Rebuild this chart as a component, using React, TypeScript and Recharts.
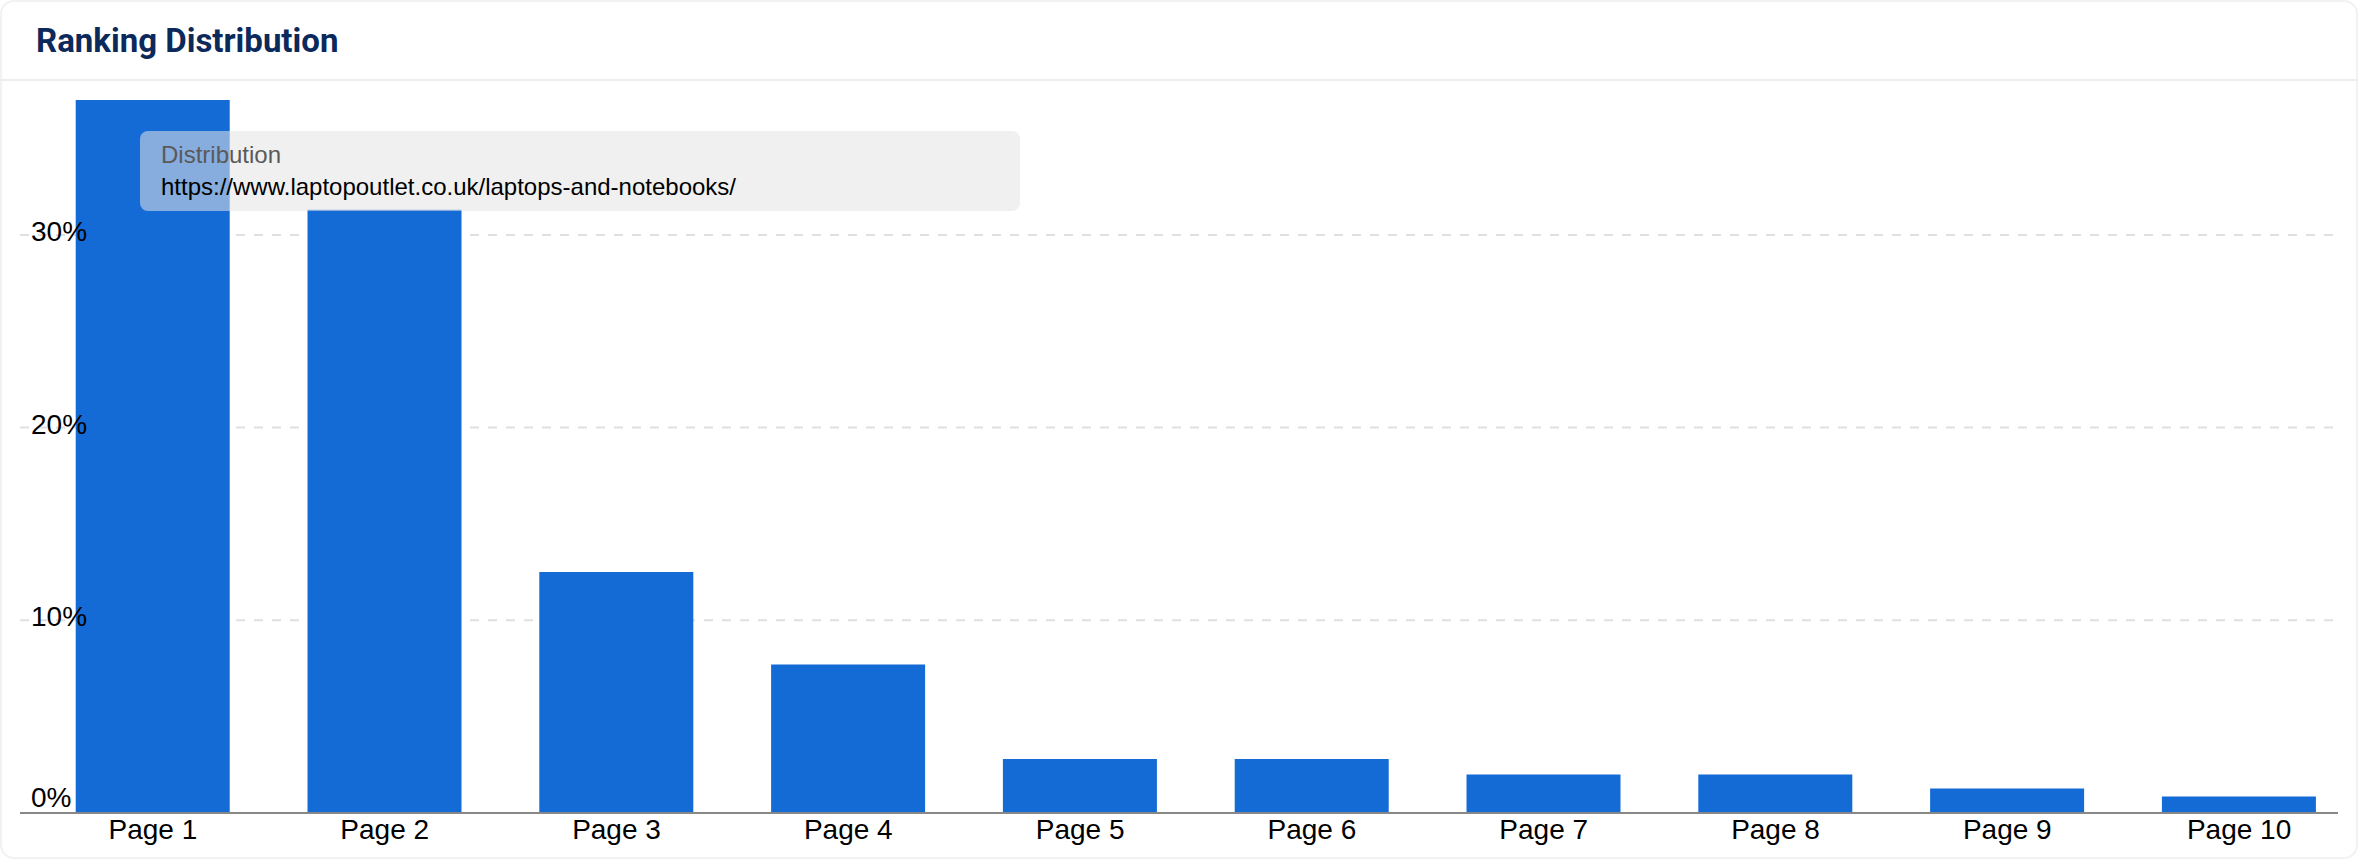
import React from "react";
import { BarChart, Bar, XAxis, YAxis, CartesianGrid, Legend } from "recharts";

const pages = ["Page 1", "Page 2", "Page 3", "Page 4", "Page 5", "Page 6", "Page 7", "Page 8", "Page 9", "Page 10"];
const distribution = [37.0, 31.3, 12.5, 7.7, 2.8, 2.8, 2.0, 2.0, 1.27, 0.85];
const yTicks = [0, 10, 20, 30];
const seriesName = "Distribution";
const siteUrl = "https://www.laptopoutlet.co.uk/laptops-and-notebooks/";

const data = pages.map((page, i) => ({ page, value: distribution[i] }));
const yMax = Math.max(...distribution);

const W = 2358;
const H = 859;
const chartFont = "'Liberation Sans', Arial, sans-serif";

function YTick(props: any) {
  const { y, payload } = props;
  // the 0% label sits above the axis line instead of centred on it
  const dy = payload.value === 0 ? -12 : 0;
  return (
    <text x={31} y={y + dy} dy="0.22em" textAnchor="start" fontSize={28} fill="#000" fontFamily={chartFont}>
      {`${payload.value}%`}
    </text>
  );
}

function LegendBox(props: any) {
  const name = props.payload?.[0]?.value ?? seriesName;
  return (
    <div
      style={{
        background: "rgba(228, 228, 228, 0.55)",
        borderRadius: 8,
        padding: "8px 21px",
        fontFamily: chartFont,
        fontSize: 24,
        lineHeight: "32px",
        boxSizing: "border-box",
        width: 880,
        height: 80,
        textAlign: "left",
      }}
    >
      <div style={{ color: "#5a5a5a" }}>{name}</div>
      <div style={{ color: "#000" }}>{siteUrl}</div>
    </div>
  );
}

// grid lines only at the labelled ticks (no line along the top of the plot)
const gridRows = ({ offset }: any) => yTicks.map((t) => offset.top + offset.height * (1 - t / yMax));

export default function App() {
  return (
    <div style={{ position: "absolute", left: 0, top: 0, width: W, height: H, background: "#fff", overflow: "hidden" }}>
      <div
        style={{
          position: "absolute",
          inset: 0,
          border: "2px solid #f2f2f2",
          borderRadius: 14,
          boxSizing: "border-box",
        }}
      />
      {/* header */}
      <div style={{ position: "absolute", left: 0, top: 79, width: W, height: 2, background: "#eeeeee" }} />
      <div
        style={{
          position: "absolute",
          left: 36,
          top: 23.5,
          fontFamily: "Roboto, sans-serif",
          fontWeight: 700,
          fontSize: 33,
          lineHeight: 1,
          color: "#0b2a5b",
        }}
      >
        Ranking Distribution
      </div>

      <div style={{ position: "absolute", left: 0, top: 0 }}>
        <BarChart
          width={W}
          height={H}
          data={data}
          margin={{ top: 100, right: 20, bottom: 0, left: -40 }}
          barCategoryGap="16.7%"
          style={{ fontFamily: chartFont }}
        >
          <CartesianGrid
            vertical={false}
            stroke="#e0e0e0"
            strokeWidth={2}
            strokeDasharray="9 9"
            horizontalCoordinatesGenerator={gridRows}
          />
          <YAxis
            width={60}
            type="number"
            domain={[0, yMax]}
            ticks={yTicks}
            interval={0}
            axisLine={false}
            tickLine={false}
            tick={YTick}
            zIndex={250}
          />
          <XAxis
            dataKey="page"
            height={46}
            padding={{ left: 17, right: -17 }}
            axisLine={{ stroke: "#888", strokeWidth: 2 }}
            tickLine={false}
            tickMargin={0}
            tick={{ fontSize: 28, fill: "#000", fontFamily: chartFont }}
            interval={0}
          />
          <Legend
            layout="horizontal"
            verticalAlign="middle"
            align="center"
            content={<LegendBox />}
            wrapperStyle={{ position: "absolute", left: 140, top: 131, width: 880, height: 80 }}
          />
          <Bar dataKey="value" name={seriesName} fill="#146bd5" isAnimationActive={false} />
        </BarChart>
      </div>
    </div>
  );
}
